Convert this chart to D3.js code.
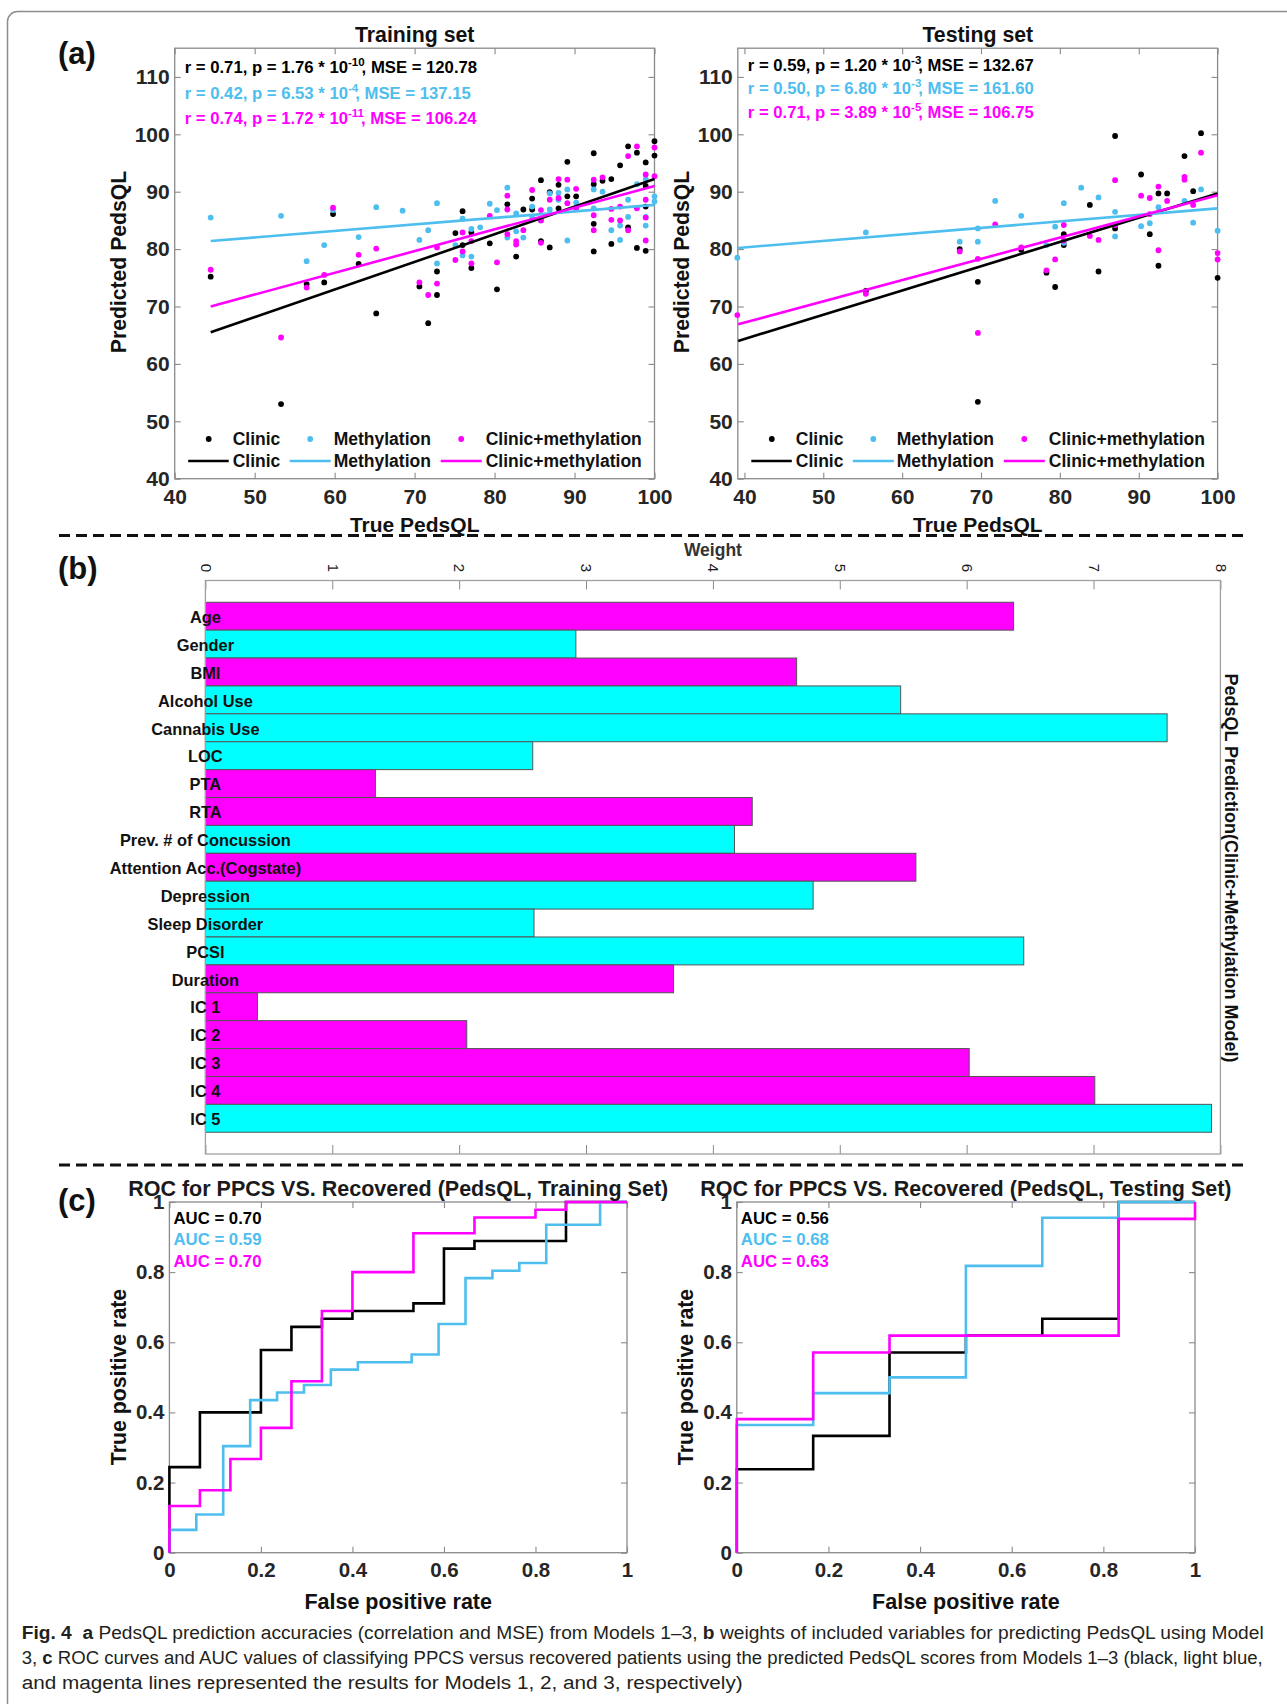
<!DOCTYPE html>
<html>
<head>
<meta charset="utf-8">
<script src="https://cdn.jsdelivr.net/npm/d3@7"></script>
<style>
body { margin: 0; background: #fff; }
svg { display: block; }
text { font-family: "Liberation Sans", Arial, sans-serif; }
</style>
</head>
<body>
<svg id="fig" width="1287" height="1704"></svg>
<script>
// ---------- data ----------
// (a) scatter: [true PedsQL, predicted PedsQL]
const trainClinic = [[44.5,75.2],[53.3,53.0],[56.5,73.9],[58.7,74.2],[59.8,86.1],[63.0,77.4],[65.2,68.8],[70.6,73.5],[71.7,67.1],[72.8,76.1],[72.8,72.0],[75.1,82.8],[76.0,86.6],[76.0,80.7],[77.1,82.9],[77.1,76.7],[79.4,81.0],[80.3,73.0],[81.6,87.8],[82.7,78.7],[83.6,86.9],[84.7,88.8],[84.7,86.9],[85.8,92.0],[85.8,81.4],[86.9,89.9],[86.9,80.3],[88.0,91.2],[88.0,87.1],[89.1,95.2],[89.1,89.2],[90.2,89.2],[92.4,96.7],[92.4,91.3],[92.4,84.4],[92.4,79.6],[93.5,91.9],[94.6,92.2],[94.6,80.9],[95.7,94.6],[96.7,97.9],[96.7,83.8],[97.8,96.8],[97.8,80.2],[98.9,95.1],[98.9,91.0],[98.9,87.4],[98.9,79.7],[100,98.8],[100,96.3]];
const trainMeth = [[44.5,85.5],[53.3,85.8],[56.5,77.9],[58.7,80.7],[59.8,86.8],[63.0,82.1],[65.2,87.3],[68.5,86.7],[70.6,81.6],[71.7,83.3],[72.8,88.0],[72.8,77.5],[75.1,80.7],[76.0,85.3],[76.0,78.9],[77.1,83.5],[77.1,78.7],[78.2,83.8],[79.4,87.9],[80.3,86.8],[81.6,90.7],[81.6,82.0],[82.7,86.2],[82.7,83.1],[83.6,82.0],[84.7,87.4],[84.7,85.6],[85.8,85.0],[86.9,89.7],[86.9,86.9],[88.0,89.8],[88.0,88.6],[89.1,90.4],[89.1,81.5],[90.2,88.1],[92.4,90.4],[92.4,87.1],[93.5,90.0],[94.6,83.3],[95.7,84.1],[95.7,81.6],[96.7,88.6],[96.7,85.6],[97.8,91.3],[98.9,92.2],[98.9,85.6],[98.9,84.1],[100,89.2],[100,88.3]];
const trainComb = [[44.5,76.4],[53.3,64.6],[56.5,73.3],[58.7,75.5],[59.8,87.2],[63.0,79.0],[65.2,80.1],[70.6,74.2],[71.7,72.0],[72.8,80.3],[72.8,74.0],[75.1,78.1],[76.0,82.9],[76.0,79.6],[77.1,81.4],[77.1,77.5],[79.4,85.8],[80.3,77.7],[81.6,89.3],[81.6,86.9],[81.6,82.6],[82.7,81.4],[82.7,80.8],[83.6,83.3],[84.7,90.3],[85.8,86.8],[85.8,85.0],[85.8,81.1],[86.9,88.6],[88.0,92.2],[88.0,88.9],[89.1,92.1],[89.1,88.0],[90.2,90.5],[90.2,87.1],[92.4,92.1],[92.4,85.9],[92.4,83.3],[93.5,92.5],[94.6,87.0],[94.6,85.1],[95.7,87.4],[95.7,85.0],[96.7,96.2],[96.7,83.3],[97.8,97.9],[97.8,87.1],[98.9,93.0],[98.9,88.6],[98.9,85.5],[98.9,81.5],[100,97.7],[100,92.7]];
const testClinic = [[55.4,72.7],[67.3,80.0],[69.6,74.3],[69.6,53.4],[75.1,79.9],[78.3,75.9],[79.4,73.4],[80.5,82.6],[80.5,80.7],[83.8,87.7],[84.9,76.1],[87.0,99.7],[87.0,83.6],[90.3,93.0],[91.4,82.6],[92.5,89.7],[92.5,77.1],[93.6,89.7],[95.8,96.2],[96.9,90.1],[97.9,100.2],[100,75.0]];
const testMeth = [[39.1,78.5],[55.4,82.9],[67.3,81.3],[69.6,83.6],[69.6,81.3],[71.8,88.4],[75.1,85.8],[78.3,80.7],[79.4,83.9],[80.5,88.0],[80.5,81.1],[82.7,90.7],[84.9,89.0],[87.0,86.5],[87.0,82.2],[90.3,84.0],[91.4,84.5],[92.5,87.3],[95.8,88.4],[96.9,84.6],[97.9,90.4],[100,83.2]];
const testComb = [[39.1,68.5],[55.4,72.2],[67.3,79.6],[69.6,78.3],[69.6,65.4],[71.8,84.3],[75.1,80.3],[78.3,76.3],[79.4,78.2],[80.5,84.2],[80.5,81.5],[83.8,82.3],[84.9,81.6],[87.0,92.0],[87.0,84.2],[90.3,89.3],[91.4,88.9],[91.4,86.1],[92.5,90.9],[92.5,79.8],[93.6,88.4],[95.8,92.6],[95.8,92.1],[96.9,87.7],[97.9,96.8],[100,79.3],[100,78.2]];

// fitted lines, end points [x, y]
const trainFitClinic = [[44.5,65.5],[100,92.2]];
const trainFitMeth = [[44.5,81.4],[100,87.7]];
const trainFitComb = [[44.5,70.0],[100,91.0]];
const testFitClinic = [[39.2,64.0],[100,89.7]];
const testFitMeth = [[39.2,80.2],[100,87.1]];
const testFitComb = [[39.2,66.9],[100,89.4]];

// r, p mantissa, p exponent, MSE
const trainStats = [["0.71","1.76","-10","120.78"],["0.42","6.53","-4","137.15"],["0.74","1.72","-11","106.24"]];
const testStats = [["0.59","1.20","-3","132.67"],["0.50","6.80","-3","161.60"],["0.71","3.89","-5","106.75"]];

const seriesNames = ["Clinic", "Methylation", "Clinic+methylation"];
const scatterYTicks = [40, 50, 60, 70, 80, 90, 100, 110];
const scatterXTicks = [40, 50, 60, 70, 80, 90, 100];

// (b) weights
const barLabels = ["Age","Gender","BMI","Alcohol Use","Cannabis Use","LOC","PTA","RTA","Prev. # of Concussion","Attention Acc.(Cogstate)","Depression","Sleep Disorder","PCSI","Duration","IC 1","IC 2","IC 3","IC 4","IC 5"];
const barWeights = [6.37,2.92,4.66,5.48,7.58,2.58,1.34,4.31,4.17,5.60,4.79,2.59,6.45,3.69,0.41,2.06,6.02,7.01,7.93];
const barGroups = ["m","c","m","c","c","c","m","m","c","m","c","c","c","m","m","m","m","m","c"];
const barTicks = [0,1,2,3,4,5,6,7,8];

// (c) ROC vertices [FPR, TPR]
const rocTrainClinic = [[0,0],[0,0.244],[0.0667,0.244],[0.0667,0.4],[0.2,0.4],[0.2,0.578],[0.2667,0.578],[0.2667,0.644],[0.3333,0.644],[0.3333,0.667],[0.4,0.667],[0.4,0.689],[0.5333,0.689],[0.5333,0.711],[0.6,0.711],[0.6,0.867],[0.6667,0.867],[0.6667,0.889],[0.8667,0.889],[0.8667,1],[1,1]];
const rocTrainMeth = [[0,0],[0,0.065],[0.0588,0.065],[0.0588,0.109],[0.1176,0.109],[0.1176,0.304],[0.1765,0.304],[0.1765,0.435],[0.2353,0.435],[0.2353,0.457],[0.2941,0.457],[0.2941,0.478],[0.3529,0.478],[0.3529,0.522],[0.4118,0.522],[0.4118,0.543],[0.5294,0.543],[0.5294,0.565],[0.5882,0.565],[0.5882,0.652],[0.6471,0.652],[0.6471,0.783],[0.7059,0.783],[0.7059,0.804],[0.7647,0.804],[0.7647,0.826],[0.8235,0.826],[0.8235,0.935],[0.9412,0.935],[0.9412,1],[1,1]];
const rocTrainComb = [[0,0],[0,0.133],[0.0667,0.133],[0.0667,0.178],[0.1333,0.178],[0.1333,0.267],[0.2,0.267],[0.2,0.356],[0.2667,0.356],[0.2667,0.489],[0.3333,0.489],[0.3333,0.689],[0.4,0.689],[0.4,0.8],[0.5333,0.8],[0.5333,0.911],[0.6667,0.911],[0.6667,0.956],[0.8,0.956],[0.8,0.978],[0.8667,0.978],[0.8667,1],[1,1]];
const rocTestClinic = [[0,0],[0,0.238],[0.1667,0.238],[0.1667,0.333],[0.3333,0.333],[0.3333,0.571],[0.5,0.571],[0.5,0.619],[0.6667,0.619],[0.6667,0.667],[0.8333,0.667],[0.8333,1],[1,1]];
const rocTestMeth = [[0,0],[0,0.364],[0.1667,0.364],[0.1667,0.455],[0.3333,0.455],[0.3333,0.5],[0.5,0.5],[0.5,0.818],[0.6667,0.818],[0.6667,0.955],[0.8333,0.955],[0.8333,1],[1,1]];
const rocTestComb = [[0,0],[0,0.381],[0.1667,0.381],[0.1667,0.571],[0.3333,0.571],[0.3333,0.619],[0.8333,0.619],[0.8333,0.952],[1,0.952],[1,1]];
const aucTrain = ["0.70","0.59","0.70"];
const aucTest = ["0.56","0.68","0.63"];
const rocTicks = [0, 0.2, 0.4, 0.6, 0.8, 1];

// ---------- drawing ----------
const svg = d3.select('#fig');
const colors = ["#000000", "#4DBEEE", "#FF00FF"];
const barColors = {m: "#FF00FF", c: "#00FFFF"};
const boxGray = "#8a8a8a";
const tickInk = "#262626";

// outer frame
svg.append('rect')
  .attr('x', 7.5).attr('y', 11.5)
  .attr('width', 1300).attr('height', 1720)
  .attr('rx', 10)
  .attr('fill', 'none').attr('stroke', '#8c8c8c').attr('stroke-width', 1.5);

function styleAxis(sel, size) {
  sel.select('.domain').remove();
  sel.selectAll('.tick line').attr('stroke', boxGray).attr('stroke-width', 1.1);
  sel.selectAll('.tick text')
    .attr('fill', tickInk)
    .attr('font-family', '"Liberation Sans", Arial, sans-serif')
    .attr('font-weight', 'bold')
    .attr('font-size', size);
}

// box with inward ticks on all four sides
function framedAxes(g, x, y, xt, yt, xfmt, yfmt, size) {
  const [x0, x1] = x.range();
  const [y0, y1] = y.range(); // y0 is the bottom
  g.append('g').attr('transform', `translate(0,${y0})`)
    .call(d3.axisBottom(x).tickValues(xt).tickFormat(xfmt).tickSize(-6).tickPadding(10))
    .call(s => styleAxis(s, size));
  g.append('g').attr('transform', `translate(0,${y1})`)
    .call(d3.axisTop(x).tickValues(xt).tickFormat('').tickSize(-6))
    .call(s => styleAxis(s, size));
  g.append('g').attr('transform', `translate(${x0},0)`)
    .call(d3.axisLeft(y).tickValues(yt).tickFormat(yfmt).tickSize(-6).tickPadding(5))
    .call(s => styleAxis(s, size));
  g.append('g').attr('transform', `translate(${x1},0)`)
    .call(d3.axisRight(y).tickValues(yt).tickFormat('').tickSize(-6))
    .call(s => styleAxis(s, size));
  g.append('rect')
    .attr('x', x0).attr('y', y1).attr('width', x1 - x0).attr('height', y0 - y1)
    .attr('fill', 'none').attr('stroke', boxGray).attr('stroke-width', 1.3);
}

function boldText(g, x, y, str, size, anchor, rot) {
  const t = g.append('text')
    .attr('font-weight', 'bold').attr('font-size', size)
    .attr('fill', '#111').attr('text-anchor', anchor || 'middle')
    .attr('dy', '0.35em').text(str);
  if (rot) t.attr('transform', `translate(${x},${y}) rotate(${rot})`);
  else t.attr('x', x).attr('y', y);
  return t;
}

function scatterPanel(o) {
  const g = svg.append('g');
  const x = d3.scaleLinear().domain(o.xDomain).range([o.left, o.left + 479.8]);
  const y = d3.scaleLinear().domain([40, 115]).range([478.7, 48.2]);
  framedAxes(g, x, y, scatterXTicks, scatterYTicks, d3.format('d'), d3.format('d'), 21);

  o.points.forEach((pts, i) => {
    g.append('g').selectAll('circle').data(pts).join('circle')
      .attr('cx', d => x(d[0])).attr('cy', d => y(d[1]))
      .attr('r', 2.9).attr('fill', colors[i]);
  });
  const line = d3.line().x(d => x(d[0])).y(d => y(d[1]));
  o.fits.forEach((f, i) => {
    g.append('path').attr('d', line(f))
      .attr('fill', 'none').attr('stroke', colors[i]).attr('stroke-width', 2.6);
  });

  // r / p / MSE lines
  o.stats.forEach((s, i) => {
    const t = g.append('text')
      .attr('x', o.left + 10).attr('y', o.statY[i]).attr('dy', '0.35em')
      .attr('font-weight', 'bold').attr('font-size', 16.7).attr('fill', colors[i]);
    t.append('tspan').text(`r = ${s[0]}, p = ${s[1]} * 10`);
    t.append('tspan').attr('dy', -7).attr('font-size', 11.5).text(s[2]);
    t.append('tspan').attr('dy', 7).attr('dx', -3).text(`, MSE = ${s[3]}`);
  });

  // legend (no frame)
  const markX = [34, 135.5, 286.5], textX = [58, 159, 311], lineX = [[13.5, 54], [115, 156], [266, 307]];
  seriesNames.forEach((n, i) => {
    g.append('circle').attr('cx', o.left + markX[i]).attr('cy', 439).attr('r', 2.9).attr('fill', colors[i]);
    g.append('line')
      .attr('x1', o.left + lineX[i][0]).attr('x2', o.left + lineX[i][1])
      .attr('y1', 461).attr('y2', 461)
      .attr('stroke', colors[i]).attr('stroke-width', 2.6);
    [439, 461].forEach(yy => {
      g.append('text').attr('x', o.left + textX[i]).attr('y', yy).attr('dy', '0.35em')
        .attr('font-weight', 'bold').attr('font-size', 17.5).attr('fill', '#111').text(n);
    });
  });

  const cx = o.left + 240;
  boldText(g, cx, 34.5, o.title, 21.3);
  boldText(g, cx, 525, "True PedsQL", 21);
  boldText(g, o.ylabX, 262, "Predicted PedsQL", 21.2, 'middle', -90);
}

scatterPanel({
  left: 174.7, xDomain: [40, 100], title: "Training set", ylabX: 119,
  points: [trainClinic, trainMeth, trainComb],
  fits: [trainFitClinic, trainFitMeth, trainFitComb],
  stats: trainStats, statY: [67, 93, 118.5]
});
scatterPanel({
  left: 737.8, xDomain: [39.16, 100], title: "Testing set", ylabX: 681.5,
  points: [testClinic, testMeth, testComb],
  fits: [testFitClinic, testFitMeth, testFitComb],
  stats: testStats, statY: [64.7, 88.5, 112.6]
});

// ---------- (b) bar chart ----------
(function () {
  const g = svg.append('g');
  const x = d3.scaleLinear().domain([0, 8]).range([205.4, 1220.4]);
  const y = d3.scaleBand().domain(barLabels).range([580.5, 1154]).paddingInner(0).paddingOuter(0.78);

  g.append('g').selectAll('rect').data(barLabels).join('rect')
    .attr('x', x(0)).attr('y', d => y(d))
    .attr('width', (d, i) => x(barWeights[i]) - x(0))
    .attr('height', y.bandwidth())
    .attr('fill', (d, i) => barColors[barGroups[i]])
    .attr('stroke', '#555').attr('stroke-width', 1);

  const top = g.append('g').attr('transform', 'translate(0,580.5)')
    .call(d3.axisTop(x).tickValues(barTicks).tickSize(-9).tickFormat(d3.format('d')));
  top.select('.domain').remove();
  top.selectAll('.tick line').attr('stroke', boxGray);
  top.selectAll('.tick text')
    .attr('x', 0).attr('y', 0).attr('dy', '0.35em')
    .attr('text-anchor', 'middle')
    .attr('transform', 'translate(0,-12.5) rotate(90)')
    .attr('font-family', '"Liberation Sans", Arial, sans-serif')
    .attr('font-size', 15).attr('fill', '#1a1a1a');
  const bot = g.append('g').attr('transform', 'translate(0,1154)')
    .call(d3.axisBottom(x).tickValues(barTicks).tickSize(-9).tickFormat(''));
  bot.select('.domain').remove();
  bot.selectAll('.tick line').attr('stroke', boxGray);

  g.append('rect').attr('x', 205.4).attr('y', 580.5).attr('width', 1015).attr('height', 573.5)
    .attr('fill', 'none').attr('stroke', '#a0a0a0').attr('stroke-width', 1.3);

  g.append('g').selectAll('text').data(barLabels).join('text')
    .attr('x', x(0)).attr('y', d => y(d) + y.bandwidth() / 2 + 1).attr('dy', '0.35em')
    .attr('text-anchor', 'middle').attr('font-weight', 'bold').attr('font-size', 16.4)
    .attr('fill', '#111').text(d => d);

  boldText(g, 712.9, 549.5, "Weight", 17.5).attr('fill', '#333');
  boldText(g, 1231, 868, "PedsQL Prediction(Clinic+Methylation Model)", 18, 'middle', 90);
})();

// ---------- (c) ROC ----------
function rocPanel(o) {
  const g = svg.append('g');
  const x = d3.scaleLinear().domain([0, 1]).range([o.left, o.right]);
  const y = d3.scaleLinear().domain([0, 1]).range([1552.7, 1202]);
  framedAxes(g, x, y, rocTicks, rocTicks, d3.format('~g'), d3.format('~g'), 20.5);
  const line = d3.line().x(d => x(d[0])).y(d => y(d[1]));
  o.curves.forEach((c, i) => {
    g.append('path').attr('d', line(c)).attr('fill', 'none')
      .attr('stroke', colors[i]).attr('stroke-width', 2.6);
  });
  o.auc.forEach((a, i) => {
    g.append('text').attr('x', o.left + 4).attr('y', [1218, 1239.5, 1261][i]).attr('dy', '0.35em')
      .attr('font-weight', 'bold').attr('font-size', 16.8).attr('fill', colors[i])
      .text(`AUC = ${a}`);
  });
  const cx = (o.left + o.right) / 2;
  boldText(g, cx, 1188.5, o.title, 21.5).attr('fill', '#1a1a1a');
  boldText(g, cx, 1601.5, "False positive rate", 21.5);
  boldText(g, o.ylabX, 1377, "True positive rate", 21.3, 'middle', -90);
}
rocPanel({
  left: 169.4, right: 627, ylabX: 119,
  title: "ROC for PPCS VS. Recovered (PedsQL, Training Set)",
  curves: [rocTrainClinic, rocTrainMeth, rocTrainComb], auc: aucTrain
});
rocPanel({
  left: 736.8, right: 1195, ylabX: 686,
  title: "ROC for PPCS VS. Recovered (PedsQL, Testing Set)",
  curves: [rocTestClinic, rocTestMeth, rocTestComb], auc: aucTest
});

// ---------- separators and panel letters ----------
[535.5, 1165].forEach(yy => {
  svg.append('line').attr('x1', 59).attr('x2', 1245).attr('y1', yy).attr('y2', yy)
    .attr('stroke', '#111').attr('stroke-width', 3).attr('stroke-dasharray', '11,6');
});
[["(a)", 53], ["(b)", 568], ["(c)", 1200]].forEach(([s, yy]) => {
  svg.append('text').attr('x', 58).attr('y', yy).attr('dy', '0.35em')
    .attr('font-family', '"Liberation Serif", "Times New Roman", serif')
    .attr('font-weight', 'bold').attr('font-size', 31).attr('fill', '#111').text(s);
});

// ---------- caption ----------
const captionLines = [
  [["Fig. 4", 1], ["  ", 0], ["a", 1], [" PedsQL prediction accuracies (correlation and MSE) from Models 1\u20133, ", 0], ["b", 1], [" weights of included variables for predicting PedsQL using Model", 0]],
  [["3, ", 0], ["c", 1], [" ROC curves and AUC values of classifying PPCS versus recovered patients using the predicted PedsQL scores from Models 1\u20133 (black, light blue,", 0]],
  [["and magenta lines represented the results for Models 1, 2, and 3, respectively)", 0]]
];
const captionWidths = [1242, 1241, 721];
captionLines.forEach((parts, i) => {
  const t = svg.append('text').attr('x', 21.7).attr('y', 1633 + i * 25).attr('dy', '0.35em')
    .attr('font-family', '"Liberation Sans Narrow", "DejaVu Sans Condensed", "Liberation Sans", sans-serif')
    .attr('font-size', 18).attr('fill', '#231f20')
    .attr('textLength', captionWidths[i]).attr('lengthAdjust', 'spacingAndGlyphs')
    .attr('xml:space', 'preserve');
  parts.forEach(([s, b]) => t.append('tspan').attr('font-weight', b ? 'bold' : 'normal').text(s));
});
</script>
</body>
</html>
